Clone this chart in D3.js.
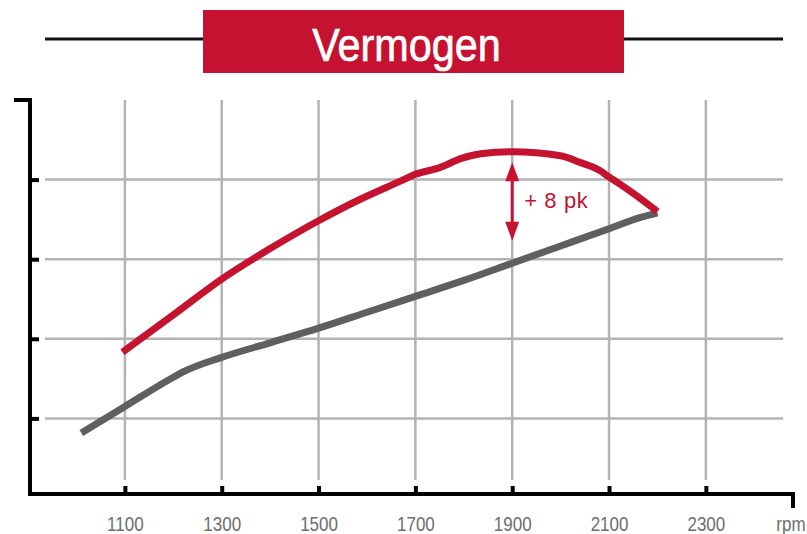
<!DOCTYPE html>
<html>
<head>
<meta charset="utf-8">
<script src="https://cdn.jsdelivr.net/npm/d3@7"></script>
<style>
  body { margin: 0; background: #fff; }
  text { font-family: "Liberation Sans", Arial, sans-serif; }
</style>
</head>
<body>
<div id="chart"></div>
<script>
// data (rpm vs pk)
var xTicks = [1100, 1300, 1500, 1700, 1900, 2100, 2300];
var yTicks = [46, 52, 58, 64];

var stockRpm = [1010, 1100, 1200, 1220, 1300, 1400, 1500, 1600, 1700, 1800, 1900, 2000, 2100, 2165, 2200];
var stockPk  = [44.9, 46.9, 49.1, 49.5, 50.6, 51.7, 52.8, 54.0, 55.2, 56.4, 57.7, 59.0, 60.3, 61.15, 61.5];

var tunedRpm = [1095, 1200, 1300, 1400, 1500, 1585, 1670, 1700, 1750, 1795, 1835, 1900, 2000, 2040, 2080, 2100, 2145, 2200];
var tunedPk  = [51.0, 53.8, 56.5, 58.8, 60.9, 62.5, 63.9, 64.4, 64.9, 65.6, 65.95, 66.1, 65.8, 65.3, 64.7, 64.2, 63.1, 61.6];

var arrowRpm = 1900;
var arrowPk = [65.3, 59.4];
var arrowLabel = "+ 8 pk";
var title = "Vermogen";

var red = "#c5122f";
var grey = "#5f5f61";
var gridColor = "#b3b3b7";
var narrow = 0.81;   // fake condensed face

var svgWidth = 807;
var svgHeight = 534;

var margin = { top: 100, left: 30 };
var chartWidth = 763;
var chartHeight = 394;

var svg = d3.select("#chart").append("svg")
  .attr("width", svgWidth)
  .attr("height", svgHeight);

// title bar
svg.append("line")
  .attr("x1", 45).attr("x2", 783)
  .attr("y1", 39).attr("y2", 39)
  .attr("stroke", "#111")
  .attr("stroke-width", 3);

svg.append("rect")
  .attr("x", 203).attr("y", 10)
  .attr("width", 421).attr("height", 63)
  .attr("fill", "#c41230");

svg.append("text")
  .attr("transform", "translate(406.5, 61) scale(0.88, 1)")
  .attr("text-anchor", "middle")
  .attr("fill", "#fff")
  .attr("stroke", "#fff")
  .attr("stroke-width", 0.7)
  .attr("font-size", 47)
  .text(title);

var chartGroup = svg.append("g")
  .attr("transform", `translate(${margin.left}, ${margin.top})`);

var x = d3.scaleLinear()
  .domain([904, 2480])
  .range([0, chartWidth]);

var y = d3.scaleLinear()
  .domain([40, 70])
  .range([398, 0]);

// grid
chartGroup.append("g")
  .selectAll("line")
  .data(yTicks)
  .enter()
  .append("line")
  .attr("x1", 15).attr("x2", 753)
  .attr("y1", d => y(d)).attr("y2", d => y(d))
  .attr("stroke", gridColor)
  .attr("stroke-width", 2.5);

chartGroup.append("g")
  .selectAll("line")
  .data(xTicks)
  .enter()
  .append("line")
  .attr("x1", d => x(d)).attr("x2", d => x(d))
  .attr("y1", 0).attr("y2", 380)
  .attr("stroke", gridColor)
  .attr("stroke-width", 2.5);

// axes
var xAxis = d3.axisBottom(x)
  .tickValues(xTicks)
  .tickSize(-8)
  .tickSizeOuter(0)
  .tickPadding(22)
  .tickFormat(d3.format("d"));

var xAxisGroup = chartGroup.append("g")
  .attr("transform", `translate(0, ${chartHeight})`)
  .call(xAxis);

var yAxisGroup = chartGroup.append("g")
  .call(d3.axisLeft(y).tickValues(yTicks).tickSize(-9).tickSizeOuter(0).tickFormat(""));

[xAxisGroup, yAxisGroup].forEach(function(g) {
  g.select(".domain").remove();
  g.selectAll(".tick line").attr("stroke", "#000").attr("stroke-width", 4);
});

xAxisGroup.selectAll(".tick text")
  .attr("fill", "#6e6e6e")
  .attr("font-size", 21)
  .attr("transform", `scale(${narrow}, 1)`);

xAxisGroup.append("text")
  .attr("transform", `translate(761, 22) scale(${narrow}, 1)`)
  .attr("dy", "0.71em")
  .attr("text-anchor", "middle")
  .attr("fill", "#6e6e6e")
  .attr("font-size", 21)
  .text("rpm");

// frame
chartGroup.append("path")
  .attr("d", `M-16,0H0V${chartHeight}H${chartWidth}V${chartHeight + 14}`)
  .attr("fill", "none")
  .attr("stroke", "#000")
  .attr("stroke-width", 4);

// lines
var line = d3.line()
  .x(d => x(d[0]))
  .y(d => y(d[1]))
  .curve(d3.curveMonotoneX);

chartGroup.append("path")
  .datum(d3.zip(stockRpm, stockPk))
  .attr("d", line)
  .attr("fill", "none")
  .attr("stroke", grey)
  .attr("stroke-width", 7);

chartGroup.append("path")
  .datum(d3.zip(tunedRpm, tunedPk))
  .attr("d", line)
  .attr("fill", "none")
  .attr("stroke", red)
  .attr("stroke-width", 7);

// +8 pk arrow
var ax = x(arrowRpm);
var yTop = y(arrowPk[0]);
var yBot = y(arrowPk[1]);

chartGroup.append("line")
  .attr("x1", ax).attr("x2", ax)
  .attr("y1", yTop + 10).attr("y2", yBot - 10)
  .attr("stroke", red)
  .attr("stroke-width", 3);

chartGroup.append("path")
  .attr("d", `M${ax},${yTop}L${ax - 7},${yTop + 19}L${ax + 7},${yTop + 19}Z` +
             `M${ax},${yBot}L${ax - 7},${yBot - 19}L${ax + 7},${yBot - 19}Z`)
  .attr("fill", red);

chartGroup.append("text")
  .attr("x", ax + 12)
  .attr("y", (yTop + yBot) / 2 + 6.5)
  .attr("fill", red)
  .attr("font-size", 22)
  .attr("letter-spacing", 0.6)
  .text(arrowLabel);
</script>
</body>
</html>
